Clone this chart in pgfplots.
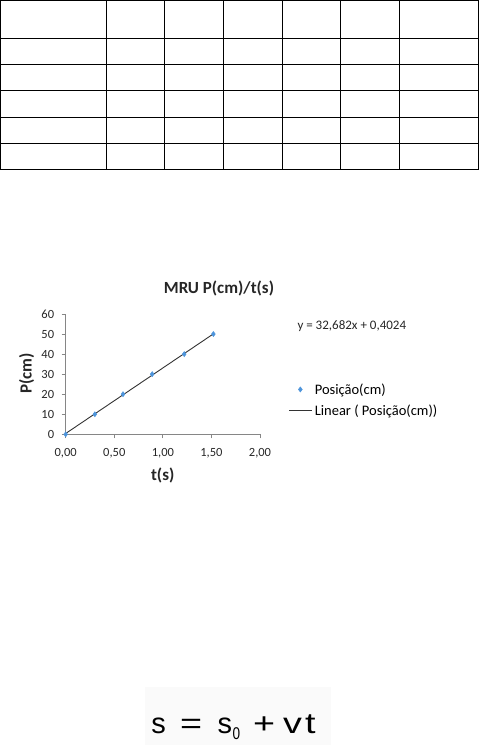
\documentclass[border=0pt]{standalone}
\usepackage{graphicx}
\usepackage{pgfplots}
\pgfplotsset{compat=1.18}
\usepackage{fontspec}
\setmainfont{Carlito}
\newfontfamily\arialfont{Liberation Sans}
\definecolor{ptblue}{HTML}{4D94DB}
\definecolor{axgray}{HTML}{868686}
\definecolor{trend}{HTML}{333333}
\pgfplotsset{
  markleg/.style={legend image code/.code={\draw[mark repeat=2,mark phase=2,##1] plot coordinates {(0pt,0pt)(11pt,0pt)(22pt,0pt)};}},
  lineleg/.style={legend image code/.code={\draw[##1] (0pt,0pt) -- (23pt,0pt);}},
}
\begin{document}
\begin{tikzpicture}[x=1pt,y=1pt]
\path[use as bounding box] (0,0) rectangle (479,745);
% empty table
\begin{scope}[line width=1.2pt, line cap=rect]
\foreach \yy in {744.3,706.7,680.7,654.7,627.7,601.7,575.7} \draw (0.7,\yy) -- (478.3,\yy);
\foreach \xx in {0.7,106.3,164.3,223.3,282.3,340.3,399.3,478.3} \draw (\xx,744.3) -- (\xx,575.7);
\end{scope}
% chart
\begin{axis}[
  at={(65.7pt,310.7pt)}, anchor=south west,
  scale only axis, width=194.3pt, height=120.3pt,
  xmin=0, xmax=2, ymin=0, ymax=60,
  xtick={0,0.5,1,1.5,2}, ytick={0,10,20,30,40,50,60},
  axis x line=bottom, axis y line=left,
  axis line style={-, axgray, line width=0.8pt},
  tick style={axgray, line width=0.8pt},
  major tick length=4pt, tick align=outside,
  tick label style={font=\fontsize{12.5}{14}\selectfont, text=black!85},
  /pgf/number format/assume math mode=true,
  xticklabel style={yshift=-7pt, /pgf/number format/.cd, fixed, fixed zerofill, precision=2, use comma},
  yticklabel style={xshift=-4pt},
  clip=false,
  legend style={draw=none, fill=none, at={(1.1477,0.285)}, anchor=west,
    font=\fontsize{14.5}{16}\selectfont, row sep=5pt, inner sep=0pt},
  legend cell align=left,
]
\addplot[only marks, mark=diamond*, mark size=2.6pt, color=ptblue, markleg]
  coordinates {(0,0) (0.30,10) (0.59,20) (0.89,30) (1.22,40) (1.52,50)};
\addlegendentry{Posição(cm)}
\addplot[trend, line width=0.9pt, no marks, lineleg]
  coordinates {(0,0.4024) (1.52,50.079)};
\addlegendentry{Linear ( Posição(cm))}
\end{axis}
\node[font=\bfseries\fontsize{17}{19}\selectfont, text=black!85] at (219,456.7) {MRU P(cm)/t(s)};
\node[font=\bfseries\fontsize{17}{19}\selectfont, rotate=90, text=black!85] at (26.7,371.7) {P(cm)};
\node[font=\bfseries\fontsize{17}{19}\selectfont, text=black!85] at (162.7,270) {t(s)};
\node[anchor=west, inner sep=0pt, font=\fontsize{13}{15}\selectfont, text=black!85] at (297.3,419) {y = 32,682x + 0,4024};
% formula
\fill[black!2] (145,58) rectangle (331,0);
\begin{scope}[every node/.style={anchor=base west, inner sep=0pt, font=\arialfont\fontsize{29}{30}\selectfont}]
\node at (151.2,11.7) {s};
\node at (180,11.7) {\scalebox{1.3}[1]{=}};
\node at (217.5,11.7) {s};
\node[font=\arialfont\fontsize{17}{18}\selectfont] at (232.5,5.7) {\scalebox{0.8}[1]{0}};
\node at (253,11.7) {\scalebox{1.3}[1]{+}};
\node at (283,11.7) {\scalebox{1.3}[1]{v}};
\node at (305,11.7) {\scalebox{1.3}[1]{t}};
\end{scope}
\end{tikzpicture}
\end{document}
